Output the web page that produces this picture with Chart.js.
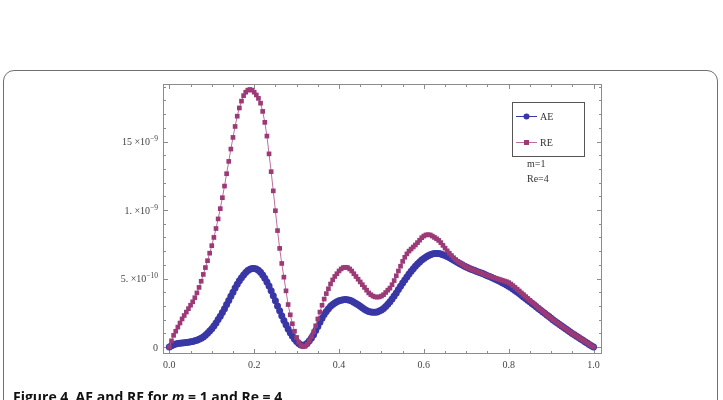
<!DOCTYPE html>
<html>
<head>
<meta charset="utf-8">
<script src="https://cdn.jsdelivr.net/npm/chart.js@4.4.1/dist/chart.umd.min.js"></script>
<style>
    html, body { margin: 0; padding: 0; background: #fff; }
    body { width: 723px; height: 400px; overflow: hidden; position: relative; }
    .frame {
        position: absolute; left: 3px; top: 70px; width: 715px; height: 360px;
        border: 1.5px solid #707070; border-radius: 11px; box-sizing: border-box;
    }
    #wrap { position: absolute; left: 0; top: 0; width: 723px; height: 400px; }
    .caption {
        position: absolute; left: 13px; top: 389px; white-space: nowrap;
        font-family: "Open Sans", sans-serif; font-weight: bold; font-size: 14px;
        line-height: 16px; color: #111;
    }
</style>
</head>
<body>
<div class="frame"></div>
<div id="wrap"><canvas id="errChart" width="723" height="400"></canvas></div>
<div class="caption">Figure 4&nbsp; AE and RE for <i>m</i> = 1 and Re = 4</div>

<script>
// x grid step (values at 0, 0.005, ... 1.0)
const xStep = 0.005;

// absolute error, in units of 1e-10
const aeValues = [
    0, 0.1, 0.17, 0.22, 0.25, 0.27, 0.29, 0.31, 0.33, 0.35,
    0.38, 0.41, 0.45, 0.5, 0.56, 0.64, 0.74, 0.86, 1.0, 1.16,
    1.34, 1.54, 1.76, 2.0, 2.25, 2.52, 2.8, 3.1, 3.4, 3.7,
    4.0, 4.3, 4.58, 4.84, 5.06, 5.26, 5.44, 5.58, 5.68, 5.74,
    5.74, 5.7, 5.6, 5.45, 5.26, 5.02, 4.75, 4.45, 4.1, 3.75,
    3.38, 3.0, 2.64, 2.28, 1.94, 1.62, 1.32, 1.05, 0.8, 0.58,
    0.4, 0.25, 0.15, 0.12, 0.16, 0.28, 0.45, 0.66, 0.9, 1.2,
    1.5, 1.8, 2.1, 2.37, 2.6, 2.8, 2.98, 3.11, 3.22, 3.3,
    3.37, 3.42, 3.45, 3.47, 3.45, 3.41, 3.35, 3.27, 3.18, 3.08,
    2.97, 2.86, 2.76, 2.67, 2.6, 2.55, 2.53, 2.53, 2.56, 2.62,
    2.7, 2.82, 2.96, 3.12, 3.3, 3.5, 3.72, 3.95, 4.19, 4.43,
    4.67, 4.9, 5.12, 5.33, 5.53, 5.72, 5.9, 6.06, 6.21, 6.35,
    6.47, 6.58, 6.67, 6.74, 6.79, 6.82, 6.83, 6.82, 6.79, 6.74,
    6.68, 6.61, 6.53, 6.44, 6.35, 6.26, 6.17, 6.08, 6.0, 5.92,
    5.84, 5.77, 5.7, 5.64, 5.58, 5.52, 5.46, 5.4, 5.34, 5.28,
    5.21, 5.14, 5.07, 5.0, 4.93, 4.86, 4.78, 4.7, 4.62, 4.53,
    4.44, 4.34, 4.24, 4.13, 4.02, 3.9, 3.78, 3.66, 3.54, 3.42,
    3.3, 3.18, 3.06, 2.94, 2.82, 2.7, 2.58, 2.46, 2.34, 2.22,
    2.1, 1.98, 1.87, 1.76, 1.65, 1.54, 1.43, 1.32, 1.21, 1.1,
    0.99, 0.89, 0.79, 0.69, 0.59, 0.49, 0.39, 0.29, 0.19, 0.09,
    0
];

// relative error, in units of 1e-10
const reValues = [
    0, 0.45, 0.85, 1.15, 1.45, 1.75, 2.05, 2.3, 2.55, 2.8,
    3.05, 3.3, 3.6, 3.95, 4.35, 4.8, 5.3, 5.8, 6.3, 6.85,
    7.4, 8.0, 8.65, 9.35, 10.1, 10.9, 11.75, 12.65, 13.55, 14.45,
    15.3, 16.1, 16.85, 17.45, 17.95, 18.35, 18.6, 18.75, 18.8, 18.75,
    18.6, 18.4, 18.15, 17.8, 17.2, 16.4, 15.4, 14.1, 12.8, 11.4,
    9.95, 8.5, 7.2, 6.1, 5.1, 4.1, 3.1, 2.35, 1.7, 1.15,
    0.7, 0.35, 0.12, 0.02, 0.05, 0.2, 0.45, 0.75, 1.1, 1.55,
    2.05, 2.55, 3.05, 3.5, 3.9, 4.25, 4.6, 4.9, 5.15, 5.35,
    5.55, 5.7, 5.8, 5.82, 5.8, 5.7, 5.55, 5.35, 5.15, 4.95,
    4.75, 4.55, 4.35, 4.15, 3.95, 3.82, 3.72, 3.66, 3.64, 3.66,
    3.72, 3.82, 3.98, 4.15, 4.3, 4.55, 4.85, 5.2, 5.55, 5.9,
    6.25, 6.55, 6.8, 7.0, 7.15, 7.3, 7.45, 7.62, 7.8, 7.98,
    8.1, 8.18, 8.2, 8.18, 8.1, 8.0, 7.9, 7.78, 7.62, 7.42,
    7.22, 7.02, 6.85, 6.68, 6.52, 6.38, 6.26, 6.15, 6.05, 5.95,
    5.86, 5.78, 5.7, 5.64, 5.58, 5.52, 5.46, 5.4, 5.34, 5.28,
    5.22, 5.17, 5.12, 5.07, 5.02, 4.97, 4.92, 4.87, 4.82, 4.77,
    4.7, 4.6, 4.48, 4.35, 4.22, 4.09, 3.95, 3.82, 3.68, 3.54,
    3.4, 3.27, 3.14, 3.0, 2.87, 2.74, 2.61, 2.48, 2.35, 2.22,
    2.1, 1.98, 1.87, 1.76, 1.65, 1.54, 1.43, 1.32, 1.21, 1.1,
    1.0, 0.9, 0.8, 0.7, 0.6, 0.5, 0.4, 0.3, 0.2, 0.1,
    0
];

// tick labels (y labels are mantissa + superscript exponent)
const xTickValues = [0, 0.2, 0.4, 0.6, 0.8, 1.0];
const xTickLabels = ['0.0', '0.2', '0.4', '0.6', '0.8', '1.0'];
const yTickValues = [0, 5, 10, 15];
const yTickLabels = ['0', '5. \u00d710', '1. \u00d710', '15 \u00d710'];
const yTickExps = ['', '\u221210', '\u22129', '\u22129'];

const blue = '#3937a6';
const purple = '#9b3a76';
const serif = '"Liberation Serif", "Times New Roman", serif';

function toPoints(values) {
    return values.map((v, i) => ({ x: i * xStep, y: v }));
}

// frame with inside ticks on all four sides, plus y labels
const frameTicks = {
    id: 'frameTicks',
    beforeDatasetsDraw(chart) {
        const { ctx, chartArea: a, scales: { x, y } } = chart;
        ctx.save();
        ctx.strokeStyle = '#8c8c8c';
        ctx.lineWidth = 1;
        ctx.strokeRect(a.left + 0.5, a.top + 0.5, a.right - a.left - 1, a.bottom - a.top - 1);
        ctx.beginPath();
        for (let i = 0; i <= 20; i++) {
            const px = Math.round(x.getPixelForValue(i * 0.05)) + 0.5;
            const len = i % 4 === 0 ? 5 : 3;
            ctx.moveTo(px, a.bottom); ctx.lineTo(px, a.bottom - len);
            ctx.moveTo(px, a.top); ctx.lineTo(px, a.top + len);
        }
        for (let i = 0; i <= 19; i++) {
            const py = Math.round(y.getPixelForValue(i)) + 0.5;
            const len = i % 5 === 0 ? 5 : 3;
            ctx.moveTo(a.left, py); ctx.lineTo(a.left + len, py);
            ctx.moveTo(a.right, py); ctx.lineTo(a.right - len, py);
        }
        ctx.stroke();

        // y labels with real superscripts
        ctx.fillStyle = '#444';
        ctx.textBaseline = 'alphabetic';
        const right = a.left - 5;
        yTickValues.forEach((v, i) => {
            const py = y.getPixelForValue(v);
            ctx.font = '7.5px ' + serif;
            const we = ctx.measureText(yTickExps[i]).width;
            ctx.font = '10px ' + serif;
            const wm = ctx.measureText(yTickLabels[i]).width;
            ctx.fillText(yTickLabels[i], right - we - wm, py + 3.5);
            if (yTickExps[i]) {
                ctx.font = '7.5px ' + serif;
                ctx.fillText(yTickExps[i], right - we, py - 0.5);
            }
        });
        ctx.restore();
    }
};

// boxed legend plus parameter notes
const boxLegend = {
    id: 'boxLegend',
    afterDraw(chart) {
        const ctx = chart.ctx;
        const a = chart.chartArea;
        const bx = a.right - 90, by = a.top + 18;
        ctx.save();
        ctx.strokeStyle = '#555';
        ctx.lineWidth = 1;
        ctx.strokeRect(bx + 0.5, by + 0.5, 72, 54);

        ctx.font = '10px ' + serif;
        ctx.fillStyle = '#333';
        ctx.textBaseline = 'middle';
        chart.data.datasets.slice().reverse().forEach((ds, i) => {
            const ly = by + 14 + i * 26;
            ctx.strokeStyle = ds.borderColor;
            ctx.beginPath();
            ctx.moveTo(bx + 4, ly + 0.5); ctx.lineTo(bx + 25, ly + 0.5);
            ctx.stroke();
            ctx.fillStyle = ds.pointBackgroundColor;
            if (ds.pointStyle === 'rect') {
                ctx.fillRect(bx + 12, ly - 2, 5, 5);
            } else {
                ctx.beginPath();
                ctx.arc(bx + 14.5, ly + 0.5, 3, 0, Math.PI * 2);
                ctx.fill();
            }
            ctx.fillStyle = '#333';
            ctx.fillText(ds.label, bx + 28, ly + 1);
        });
        ctx.fillText('m=1', bx + 15, by + 62);
        ctx.fillText('Re=4', bx + 15, by + 77);
        ctx.restore();
    }
};

const ctx = document.getElementById('errChart').getContext('2d');

new Chart(ctx, {
    type: 'scatter',
    data: {
        datasets: [{
            label: 'RE',
            data: toPoints(reValues),
            showLine: true,
            borderColor: '#bd6f9c',
            borderWidth: 1,
            pointStyle: 'rect',
            pointRadius: 3.3,
            pointBackgroundColor: purple,
            pointBorderWidth: 0,
            order: 0
        }, {
            label: 'AE',
            data: toPoints(aeValues),
            showLine: true,
            borderColor: blue,
            borderWidth: 1,
            pointStyle: 'circle',
            pointRadius: 3.5,
            pointBackgroundColor: blue,
            pointBorderWidth: 0,
            order: 1
        }]
    },
    options: {
        responsive: false,
        devicePixelRatio: 1,
        animation: false,
        layout: { padding: { left: 0, top: 84, right: 121, bottom: 26 } },
        plugins: {
            legend: { display: false },
            tooltip: { enabled: false }
        },
        scales: {
            x: {
                type: 'linear',
                min: -0.015,
                max: 1.02,
                grid: { display: false },
                border: { display: false },
                afterBuildTicks: s => { s.ticks = xTickValues.map(v => ({ value: v })); },
                afterFit: s => { s.height = 20; },
                ticks: {
                    autoSkip: false,
                    maxRotation: 0,
                    padding: -3,
                    color: '#444',
                    font: { family: serif, size: 10 },
                    callback: (v, i) => xTickLabels[i]
                }
            },
            y: {
                type: 'linear',
                min: -0.51,
                max: 19.2,
                grid: { display: false },
                border: { display: false },
                afterBuildTicks: s => { s.ticks = yTickValues.map(v => ({ value: v })); },
                afterFit: s => { s.width = 163; },
                ticks: { display: false }
            }
        }
    },
    plugins: [frameTicks, boxLegend]
});
</script>
</body>
</html>
